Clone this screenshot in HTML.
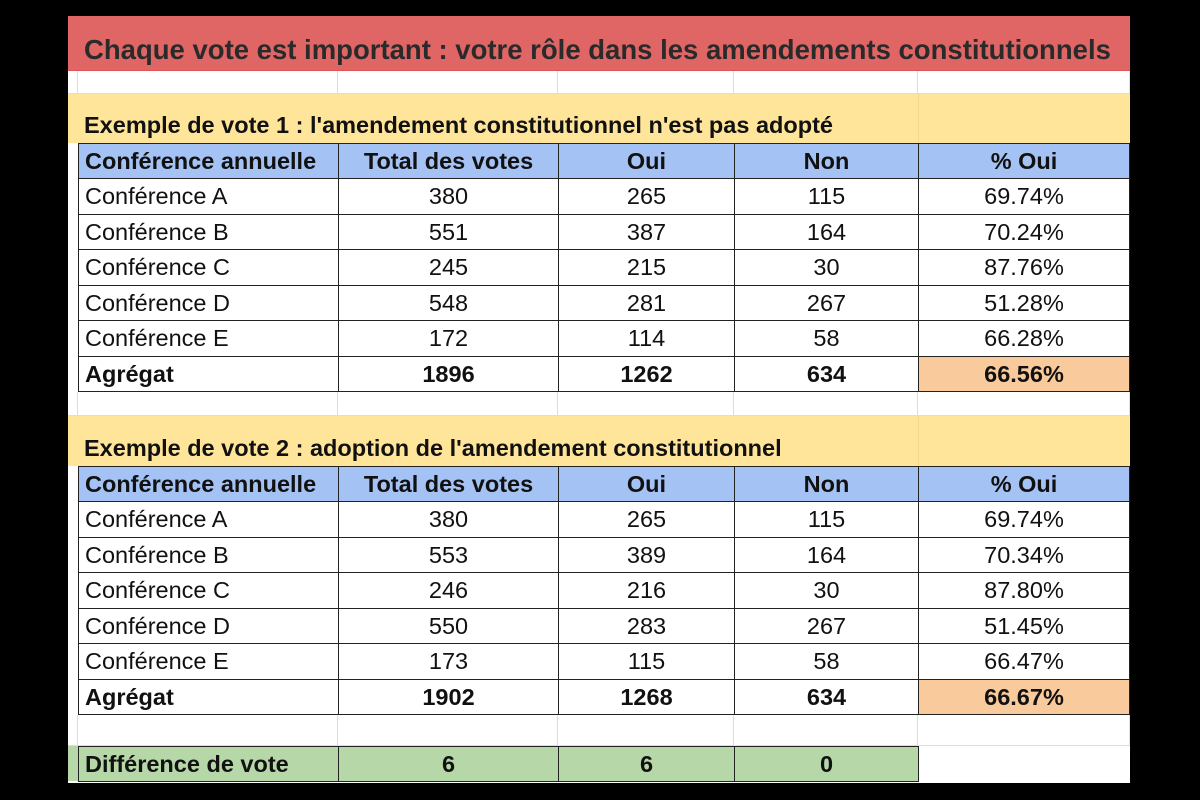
<!DOCTYPE html>
<html><head><meta charset="utf-8"><style>
body{margin:0;width:1200px;height:800px;background:#000;position:relative;overflow:hidden;font-family:"Liberation Sans",Arial,sans-serif;color:#111}
.s{position:absolute;left:68px;top:16px;width:1062px;height:767px;background:#fff}
.c{position:absolute;box-sizing:border-box;display:flex;align-items:center;font-size:23.5px;white-space:nowrap}
.l{padding-left:6px}
.m{justify-content:center}
.b{font-weight:bold}
.g{border-right:1px solid #ddd;border-bottom:1px solid #ddd}
.k{border:1.5px solid #222}
</style></head><body>
<div class="s"></div>
<!-- title -->
<div class="c" style="left:68px;top:16px;width:1062px;height:55px;background:#e06666;font-size:27.5px;font-weight:bold;color:#2a2a2a;padding:14px 0 0 16px;border-bottom:1px solid #d55">Chaque vote est important : votre rôle dans les amendements constitutionnels</div>
<!-- blank row grid lines -->
<div class="c g" style="left:68px;top:71px;width:10px;height:23px"></div>
<div class="c g" style="left:78px;top:71px;width:260px;height:23px"></div>
<div class="c g" style="left:338px;top:71px;width:220px;height:23px"></div>
<div class="c g" style="left:558px;top:71px;width:176px;height:23px"></div>
<div class="c g" style="left:734px;top:71px;width:184px;height:23px"></div>
<div class="c g" style="left:918px;top:71px;width:212px;height:23px"></div>
<!-- yellow 1 -->
<div class="c b" style="left:68px;top:94px;width:850px;height:49px;background:#ffe599;align-items:flex-end;padding:0 0 4px 16px;font-size:23.5px">Exemple de vote 1 : l'amendement constitutionnel n'est pas adopté</div>
<div class="c" style="left:918px;top:94px;width:212px;height:49px;background:#ffe599;border-left:1px solid #f0d890"></div>
<div class="c" style="left:68px;top:143px;width:10px;height:248px;background:#fff"></div>
<!-- table1 -->
<div class="c k b l" style="left:78px;top:143px;width:261px;height:36px;background:#a4c2f4">Conférence annuelle</div>
<div class="c k b m" style="left:338px;top:143px;width:221px;height:36px;background:#a4c2f4">Total des votes</div>
<div class="c k b m" style="left:558px;top:143px;width:177px;height:36px;background:#a4c2f4">Oui</div>
<div class="c k b m" style="left:734px;top:143px;width:185px;height:36px;background:#a4c2f4">Non</div>
<div class="c k b m" style="left:918px;top:143px;width:212px;height:36px;background:#a4c2f4">% Oui</div>

<div class="c k l" style="left:78px;top:178px;width:261px;height:37px">Conférence A</div><div class="c k m" style="left:338px;top:178px;width:221px;height:37px">380</div><div class="c k m" style="left:558px;top:178px;width:177px;height:37px">265</div><div class="c k m" style="left:734px;top:178px;width:185px;height:37px">115</div><div class="c k m" style="left:918px;top:178px;width:212px;height:37px">69.74%</div>
<div class="c k l" style="left:78px;top:214px;width:261px;height:36px">Conférence B</div><div class="c k m" style="left:338px;top:214px;width:221px;height:36px">551</div><div class="c k m" style="left:558px;top:214px;width:177px;height:36px">387</div><div class="c k m" style="left:734px;top:214px;width:185px;height:36px">164</div><div class="c k m" style="left:918px;top:214px;width:212px;height:36px">70.24%</div>
<div class="c k l" style="left:78px;top:249px;width:261px;height:37px">Conférence C</div><div class="c k m" style="left:338px;top:249px;width:221px;height:37px">245</div><div class="c k m" style="left:558px;top:249px;width:177px;height:37px">215</div><div class="c k m" style="left:734px;top:249px;width:185px;height:37px">30</div><div class="c k m" style="left:918px;top:249px;width:212px;height:37px">87.76%</div>
<div class="c k l" style="left:78px;top:285px;width:261px;height:36px">Conférence D</div><div class="c k m" style="left:338px;top:285px;width:221px;height:36px">548</div><div class="c k m" style="left:558px;top:285px;width:177px;height:36px">281</div><div class="c k m" style="left:734px;top:285px;width:185px;height:36px">267</div><div class="c k m" style="left:918px;top:285px;width:212px;height:36px">51.28%</div>
<div class="c k l" style="left:78px;top:320px;width:261px;height:37px">Conférence E</div><div class="c k m" style="left:338px;top:320px;width:221px;height:37px">172</div><div class="c k m" style="left:558px;top:320px;width:177px;height:37px">114</div><div class="c k m" style="left:734px;top:320px;width:185px;height:37px">58</div><div class="c k m" style="left:918px;top:320px;width:212px;height:37px">66.28%</div>
<div class="c k l b" style="left:78px;top:356px;width:261px;height:36px">Agrégat</div><div class="c k m b" style="left:338px;top:356px;width:221px;height:36px">1896</div><div class="c k m b" style="left:558px;top:356px;width:177px;height:36px">1262</div><div class="c k m b" style="left:734px;top:356px;width:185px;height:36px">634</div><div class="c k m b" style="left:918px;top:356px;width:212px;height:36px;background:#f9cb9c">66.56%</div>
<!-- blank -->
<div class="c g" style="left:68px;top:392px;width:10px;height:24px"></div>
<div class="c g" style="left:78px;top:392px;width:260px;height:24px"></div>
<div class="c g" style="left:338px;top:392px;width:220px;height:24px"></div>
<div class="c g" style="left:558px;top:392px;width:176px;height:24px"></div>
<div class="c g" style="left:734px;top:392px;width:184px;height:24px"></div>
<div class="c g" style="left:918px;top:392px;width:212px;height:24px"></div>
<!-- yellow 2 -->
<div class="c b" style="left:68px;top:416px;width:850px;height:50px;background:#ffe599;align-items:flex-end;padding:0 0 4px 16px;font-size:23.5px">Exemple de vote 2 : adoption de l'amendement constitutionnel</div>
<div class="c" style="left:918px;top:416px;width:212px;height:50px;background:#ffe599;border-left:1px solid #f0d890"></div>
<!-- table2 -->
<div class="c k b l" style="left:78px;top:466px;width:261px;height:36px;background:#a4c2f4">Conférence annuelle</div>
<div class="c k b m" style="left:338px;top:466px;width:221px;height:36px;background:#a4c2f4">Total des votes</div>
<div class="c k b m" style="left:558px;top:466px;width:177px;height:36px;background:#a4c2f4">Oui</div>
<div class="c k b m" style="left:734px;top:466px;width:185px;height:36px;background:#a4c2f4">Non</div>
<div class="c k b m" style="left:918px;top:466px;width:212px;height:36px;background:#a4c2f4">% Oui</div>

<div class="c k l" style="left:78px;top:501px;width:261px;height:37px">Conférence A</div><div class="c k m" style="left:338px;top:501px;width:221px;height:37px">380</div><div class="c k m" style="left:558px;top:501px;width:177px;height:37px">265</div><div class="c k m" style="left:734px;top:501px;width:185px;height:37px">115</div><div class="c k m" style="left:918px;top:501px;width:212px;height:37px">69.74%</div>
<div class="c k l" style="left:78px;top:537px;width:261px;height:36px">Conférence B</div><div class="c k m" style="left:338px;top:537px;width:221px;height:36px">553</div><div class="c k m" style="left:558px;top:537px;width:177px;height:36px">389</div><div class="c k m" style="left:734px;top:537px;width:185px;height:36px">164</div><div class="c k m" style="left:918px;top:537px;width:212px;height:36px">70.34%</div>
<div class="c k l" style="left:78px;top:572px;width:261px;height:37px">Conférence C</div><div class="c k m" style="left:338px;top:572px;width:221px;height:37px">246</div><div class="c k m" style="left:558px;top:572px;width:177px;height:37px">216</div><div class="c k m" style="left:734px;top:572px;width:185px;height:37px">30</div><div class="c k m" style="left:918px;top:572px;width:212px;height:37px">87.80%</div>
<div class="c k l" style="left:78px;top:608px;width:261px;height:36px">Conférence D</div><div class="c k m" style="left:338px;top:608px;width:221px;height:36px">550</div><div class="c k m" style="left:558px;top:608px;width:177px;height:36px">283</div><div class="c k m" style="left:734px;top:608px;width:185px;height:36px">267</div><div class="c k m" style="left:918px;top:608px;width:212px;height:36px">51.45%</div>
<div class="c k l" style="left:78px;top:643px;width:261px;height:37px">Conférence E</div><div class="c k m" style="left:338px;top:643px;width:221px;height:37px">173</div><div class="c k m" style="left:558px;top:643px;width:177px;height:37px">115</div><div class="c k m" style="left:734px;top:643px;width:185px;height:37px">58</div><div class="c k m" style="left:918px;top:643px;width:212px;height:37px">66.47%</div>
<div class="c k l b" style="left:78px;top:679px;width:261px;height:36px">Agrégat</div><div class="c k m b" style="left:338px;top:679px;width:221px;height:36px">1902</div><div class="c k m b" style="left:558px;top:679px;width:177px;height:36px">1268</div><div class="c k m b" style="left:734px;top:679px;width:185px;height:36px">634</div><div class="c k m b" style="left:918px;top:679px;width:212px;height:36px;background:#f9cb9c">66.67%</div>
<!-- blank -->
<div class="c g" style="left:68px;top:715px;width:10px;height:31px"></div>
<div class="c g" style="left:78px;top:715px;width:260px;height:31px"></div>
<div class="c g" style="left:338px;top:715px;width:220px;height:31px"></div>
<div class="c g" style="left:558px;top:715px;width:176px;height:31px"></div>
<div class="c g" style="left:734px;top:715px;width:184px;height:31px"></div>
<div class="c g" style="left:918px;top:715px;width:212px;height:31px"></div>
<!-- green -->
<div class="c" style="left:68px;top:746px;width:10px;height:35px;background:#b6d7a8"></div>
<div class="c k l b" style="left:78px;top:746px;width:261px;height:36px;background:#b6d7a8">Différence de vote</div>
<div class="c k m b" style="left:338px;top:746px;width:221px;height:36px;background:#b6d7a8">6</div>
<div class="c k m b" style="left:558px;top:746px;width:177px;height:36px;background:#b6d7a8">6</div>
<div class="c k m b" style="left:734px;top:746px;width:185px;height:36px;background:#b6d7a8">0</div>
</body></html>
